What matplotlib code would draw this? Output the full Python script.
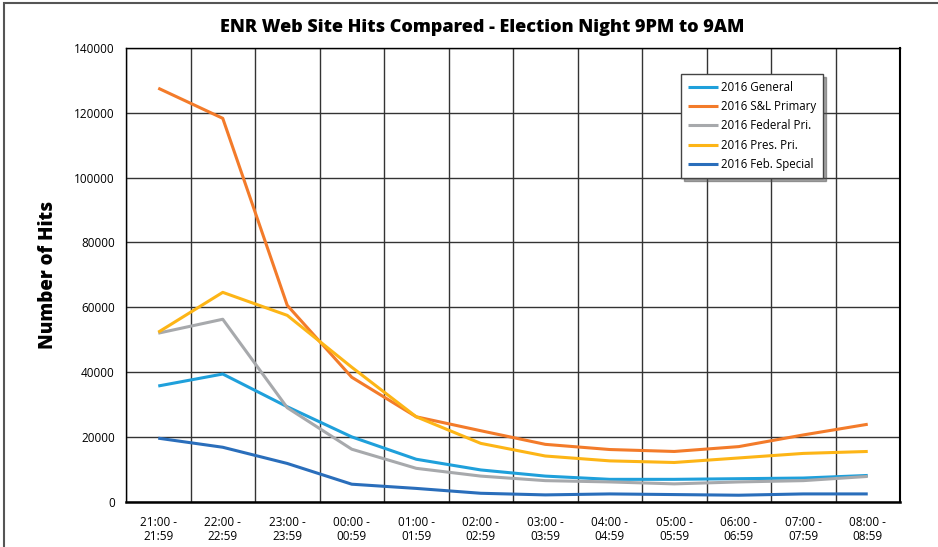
import numpy as np
import matplotlib
matplotlib.use("Agg")
import matplotlib.pyplot as plt
from matplotlib.patches import Rectangle

plt.rcParams['font.family'] = ['Open Sans', 'DejaVu Sans']

hours = ["21:00 -\n21:59", "22:00 -\n22:59", "23:00 -\n23:59", "00:00 -\n00:59",
         "01:00 -\n01:59", "02:00 -\n02:59", "03:00 -\n03:59", "04:00 -\n04:59",
         "05:00 -\n05:59", "06:00 -\n06:59", "07:00 -\n07:59", "08:00 -\n08:59"]

general = [35700, 39400, 29300, 20000, 13100, 9800, 7900, 6900, 6900, 7100, 7300, 8100]
sl_primary = [127600, 118300, 60600, 38400, 26200, 21900, 17700, 16100, 15500, 17000, 20600, 23900]
federal_pri = [52000, 56300, 29000, 16200, 10300, 7900, 6500, 6100, 5500, 6100, 6500, 7800]
pres_pri = [52300, 64600, 57500, 41500, 26200, 18000, 14100, 12600, 12100, 13500, 14900, 15500]
feb_special = [19600, 16800, 11800, 5400, 4100, 2600, 2100, 2400, 2200, 2000, 2400, 2400]

series = [
    ("2016 General", general, "#1fa0db"),
    ("2016 S&L Primary", sl_primary, "#f37b2a"),
    ("2016 Federal Pri.", federal_pri, "#a7a9ac"),
    ("2016 Pres. Pri.", pres_pri, "#fdb516"),
    ("2016 Feb. Special", feb_special, "#2a6ebb"),
]

fig = plt.figure(figsize=(9.38, 5.47), dpi=100)
ax = fig.add_axes([126 / 938, 1 - 501.7 / 547, 774 / 938, 453.7 / 547])

x = np.arange(len(hours))
for name, vals, col in series:
    ax.plot(x, vals, color=col, lw=2.2, label=name, solid_capstyle='butt')

ax.set_xlim(-0.5, len(hours) - 0.5)
ax.set_ylim(0, 140000)
ax.set_yticks(np.arange(0, 140001, 20000))
ax.set_yticklabels([str(v) for v in range(0, 140001, 20000)], fontsize=8.5)
ax.set_xticks(x)
ax.set_xticklabels(hours, fontsize=8.5, linespacing=1.1)
ax.set_xticks(np.arange(-0.5, len(hours)), minor=True)
ax.tick_params(which='both', length=0, pad=8)
ax.tick_params(axis='x', pad=10)
ax.grid(False)
ax.grid(True, which='minor', axis='x', color='#333333', lw=1)
ax.grid(True, which='major', axis='y', color='#333333', lw=1)
ax.set_axisbelow(True)
for s in ax.spines.values():
    s.set_color('black')
    s.set_linewidth(1)
ax.spines['bottom'].set_linewidth(1.8)
ax.spines['right'].set_linewidth(1.5)

ax.set_ylabel("Number of Hits", fontsize=13.5, fontweight='heavy', labelpad=12)

fig.text(482 / 938, 1 - 28 / 547, "ENR Web Site Hits Compared - Election Night 9PM to 9AM",
         ha='center', va='center', fontsize=13, fontweight='heavy')

leg = ax.legend(loc='upper left', bbox_to_anchor=(549 / 774, 1 - 20 / 453.7),
                fontsize=8.3, frameon=True, fancybox=False, shadow=True,
                handlelength=2.6, handletextpad=0.3, labelspacing=0.55,
                borderpad=0.6, edgecolor='#444444')
leg.get_frame().set_linewidth(1)

fig.patches.append(Rectangle((4 / 938, -0.01), 1.1, 1 - 3 / 547 + 0.01,
                             transform=fig.transFigure, fill=False,
                             edgecolor='#555555', lw=1.5))

fig.savefig("out.png", dpi=100)
